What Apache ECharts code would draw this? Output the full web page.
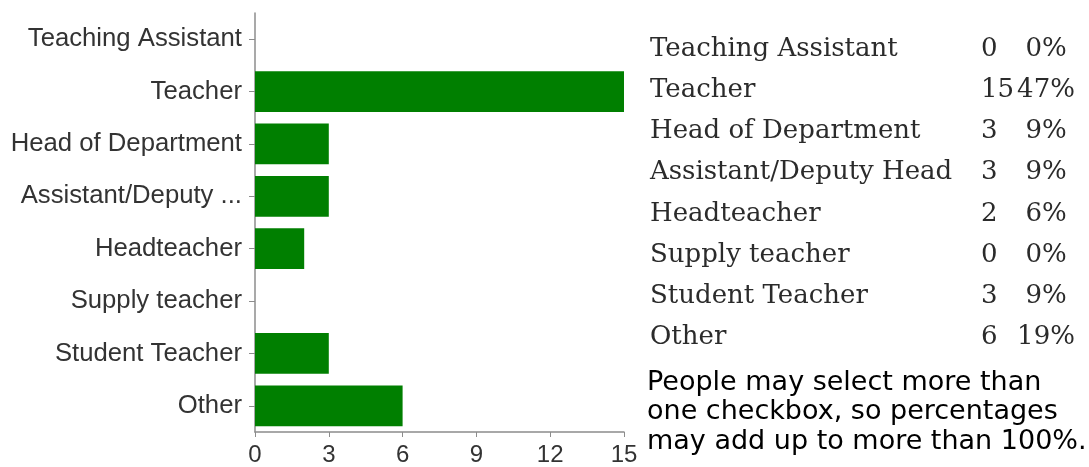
<!DOCTYPE html>
<html><head><meta charset="utf-8">
<script src="https://cdn.jsdelivr.net/npm/echarts@6/dist/echarts.min.js"></script>
<style>html,body{margin:0;padding:0;background:#fff}#c{width:1089px;height:467px}</style>
</head><body><div id="c"></div>
<script>
const axisCategories = ['Teaching Assistant','Teacher','Head of Department','Assistant/Deputy ...','Headteacher','Supply teacher','Student Teacher','Other'];
const tableCategories = ['Teaching Assistant','Teacher','Head of Department','Assistant/Deputy Head','Headteacher','Supply teacher','Student Teacher','Other'];
const counts = [0,15,3,3,2,0,3,6];
const percents = ['0%','47%','9%','9%','6%','0%','9%','19%'];
const xTicks = [0,3,6,9,12,15];
const noteLines = ['People may select more than','one checkbox, so percentages','may add up to more than 100%.'];

const chart = echarts.init(document.getElementById('c'), null, {renderer:'canvas'});
const graphics = [];
const rowTop = 52, rowStep = 41.2;
const serif = '26px "DejaVu Serif"';
tableCategories.forEach((name, i) => {
  const y = rowTop + i * rowStep;
  graphics.push({type:'text', left:650, top:y-16, style:{text:name, font:serif, fill:'#2b2b2b'}});
  graphics.push({type:'text', left:981, top:y-16, style:{text:String(counts[i]), font:serif, fill:'#2b2b2b'}});
  graphics.push({type:'text', x:1046, y:y-16, style:{text:percents[i], font:serif, fill:'#2b2b2b', textAlign:'center'}});
});
noteLines.forEach((t, i) => {
  graphics.push({type:'text', left:647, top:369 + i*29.8, style:{text:t, font:'27px "DejaVu Sans"', fill:'#000'}});
});

chart.setOption({
  animation:false,
  grid:{left:255, right:465, top:13, bottom:35, containLabel:false, outerBoundsMode:'none'},
  xAxis:{
    type:'value', min:0, max:15, interval:3,
    axisLine:{show:true, lineStyle:{color:'#8c8c8c', width:1.5}},
    axisTick:{show:true, length:5, lineStyle:{color:'#8c8c8c'}},
    splitLine:{show:false},
    axisLabel:{color:'#333', fontFamily:'Liberation Sans', fontSize:24, margin:11,
      formatter: v => xTicks.includes(v) ? String(v) : ''}
  },
  yAxis:{
    type:'category', data:axisCategories, inverse:true,
    axisLine:{show:true, lineStyle:{color:'#8c8c8c', width:1.5}},
    axisTick:{show:true, length:6, alignWithLabel:true, lineStyle:{color:'#8c8c8c'}},
    axisLabel:{color:'#333', fontFamily:'Liberation Sans', fontSize:25.7, margin:13}
  },
  series:[{
    type:'bar', data:counts, barCategoryGap:'22%',
    itemStyle:{color:'#007f00'}
  }],
  graphic: graphics
});
</script></body></html>
